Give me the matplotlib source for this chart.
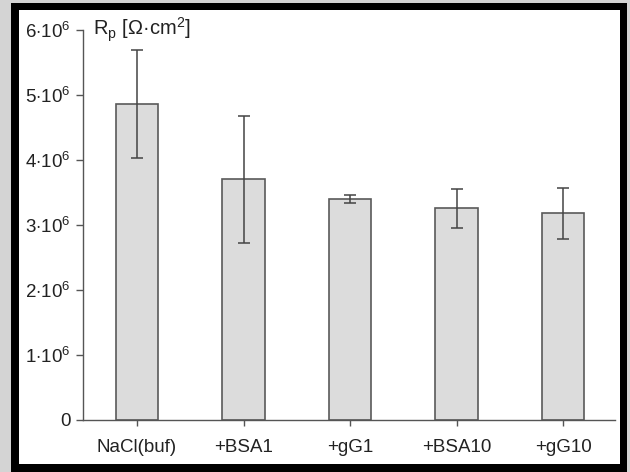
import matplotlib
matplotlib.use("Agg")
import matplotlib.pyplot as plt
from matplotlib.patches import Rectangle

categories = ["NaCl(buf)", "+BSA1", "+gG1", "+BSA10", "+gG10"]
rp_values = [4.86e6, 3.70e6, 3.40e6, 3.26e6, 3.18e6]
rp_errors = [0.83e6, 0.98e6, 0.06e6, 0.30e6, 0.39e6]
ytick_values = [0, 1e6, 2e6, 3e6, 4e6, 5e6, 6e6]
ytick_labels = ["0"] + [r"$%d{\cdot}10^{6}$" % k for k in range(1, 7)]

plt.rcParams["font.family"] = ["Liberation Sans", "DejaVu Sans"]
plt.rcParams["mathtext.fontset"] = "custom"
plt.rcParams["mathtext.rm"] = "Liberation Sans"
plt.rcParams["mathtext.it"] = "Liberation Sans"
plt.rcParams["mathtext.default"] = "rm"

W, H = 630, 472
fig = plt.figure(figsize=(W / 100, H / 100), dpi=100)
fig.patch.set_facecolor("#d4d4d4")

# black frame and white panel
fig.patches.append(Rectangle((11 / W, 0), (627 - 11) / W, 1 - 3 / H,
                             transform=fig.transFigure, facecolor="black",
                             edgecolor="none", zorder=-2))
fig.patches.append(Rectangle((19 / W, 1 - 464 / H), (620 - 19) / W, (464 - 10) / H,
                             transform=fig.transFigure, facecolor="white",
                             edgecolor="none", zorder=-1))

ax = fig.add_axes([83 / W, 1 - 420 / H, (615 - 83) / W, 390 / H])
ax.set_facecolor("none")
ax.set_zorder(2)

x = list(range(len(categories)))
ax.bar(x, rp_values, width=0.40, color="#dcdcdc", edgecolor="#5a5a5a",
       linewidth=1.2, zorder=2)
ax.errorbar(x, rp_values, yerr=rp_errors, fmt="none", ecolor="#444444",
            elinewidth=1.1, capsize=4.3, capthick=1.1, zorder=3)

ax.set_xlim(-0.507, 4.488)
ax.set_ylim(0, 6e6)
ax.set_xticks(x)
ax.set_xticklabels(categories, fontsize=13.5, color="#222222")
ax.set_yticks(ytick_values)
ax.set_yticklabels(ytick_labels, fontsize=13.5, color="#222222")

for s in ["top", "right"]:
    ax.spines[s].set_visible(False)
for s in ["left", "bottom"]:
    ax.spines[s].set_color("#555555")
    ax.spines[s].set_linewidth(1.0)
ax.tick_params(axis="y", direction="out", length=5, width=1.0, color="#555555", pad=4)
ax.tick_params(axis="x", direction="out", length=4, width=1.0, color="#555555", pad=9.5)

ax.text(0.0185, 1.0, r"R$_{\mathregular{p}}$ [Ω·cm$^{2}$]",
        transform=ax.transAxes, fontsize=14.5, color="#222222",
        ha="left", va="center")

fig.savefig("out.png", dpi=100, facecolor=fig.get_facecolor())
